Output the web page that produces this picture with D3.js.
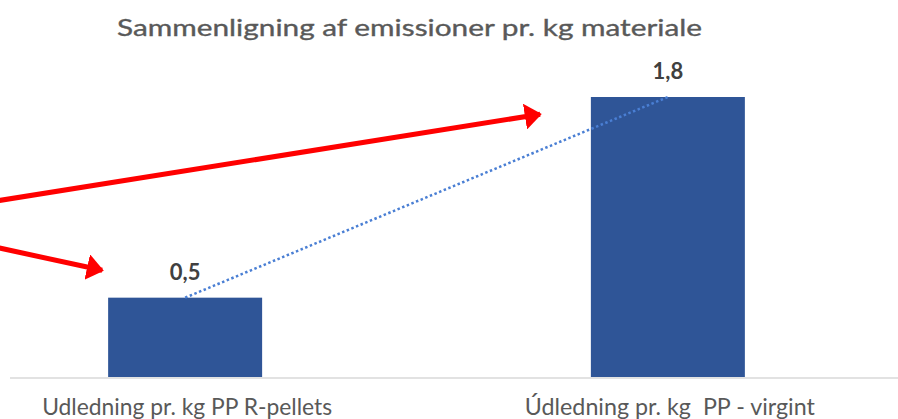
<!DOCTYPE html>
<html>
<head>
<meta charset="utf-8">
<script src="https://cdn.jsdelivr.net/npm/d3@7"></script>
<style>
  html, body { margin: 0; padding: 0; background: #fff; }
  svg { display: block; font-family: Lato, "Open Sans", sans-serif; }
  text { white-space: pre; }
</style>
</head>
<body>
<svg id="chart" width="898" height="419"></svg>
<script>
// Données
const categories = ["Udledning pr. kg PP R-pellets", "Údledning pr. kg  PP - virgint"];
const values     = [0.51, 1.8];
const title      = "Sammenligning af emissioner pr. kg materiale";

// Flèches rouges (annotations ajoutées à la main, hors données)
const arrows = [
  { x1: -10, y1: 202, x2: 548, y2: 113 },
  { x1: -10, y1: 246, x2: 110, y2: 272 }
];

const W = 898, H = 419;
const svg = d3.select('#chart');

// format danois : virgule décimale
const fmt = d3.formatLocale({ decimal: ",", thousands: ".", grouping: [3], currency: ["", " kr"] }).format(".1f");

const x = d3.scaleBand()
  .domain(categories)
  .range([-56, 909])
  .paddingInner(0.681)
  .paddingOuter(0.34);

const y = d3.scaleLinear()
  .domain([0, 1.8])
  .range([377, 97]);

// Titre
svg.append('text')
  .attr('x', 409.5).attr('y', 36)
  .attr('text-anchor', 'middle')
  .attr('font-size', 23)
  .attr('fill', '#595959')
  .attr('stroke', '#595959').attr('stroke-width', 0.35)
  .attr('textLength', 585).attr('lengthAdjust', 'spacingAndGlyphs')
  .text(title);

// Axe horizontal
svg.append('line')
  .attr('x1', 10).attr('x2', W)
  .attr('y1', y(0) + 1).attr('y2', y(0) + 1)
  .attr('stroke', '#d9d9d9').attr('stroke-width', 1.5);

// Barres
svg.append('g').selectAll('rect')
  .data(values).join('rect')
  .attr('x', (d, i) => x(categories[i]))
  .attr('y', d => y(d))
  .attr('width', x.bandwidth())
  .attr('height', d => y(0) - y(d))
  .attr('fill', '#2f5597');

// Ligne pointillée entre les sommets
const line = d3.line()
  .x((d, i) => x(categories[i]) + x.bandwidth() / 2)
  .y(d => y(d));
svg.append('path')
  .datum(values)
  .attr('d', line)
  .attr('fill', 'none')
  .attr('stroke', '#4a7fd4')
  .attr('stroke-width', 2.5)
  .attr('stroke-dasharray', '2.5,2.5');

// Étiquettes de valeur
svg.append('g').selectAll('text')
  .data(values).join('text')
  .attr('x', (d, i) => x(categories[i]) + x.bandwidth() / 2)
  .attr('y', d => y(d) - 18)
  .attr('text-anchor', 'middle')
  .attr('font-size', 22)
  .attr('font-weight', 700)
  .attr('fill', '#404040')
  .text(d => fmt(d));

// Étiquettes de catégorie
svg.append('g').selectAll('text')
  .data(categories).join('text')
  .attr('x', d => x(d) + x.bandwidth() / 2 + 2)
  .attr('y', 415)
  .attr('text-anchor', 'middle')
  .attr('font-size', 23)
  .attr('fill', '#595959')
  .attr('textLength', 290).attr('lengthAdjust', 'spacingAndGlyphs')
  .text(d => d);

// Flèches rouges
const defs = svg.append('defs');
defs.append('marker')
  .attr('id', 'head')
  .attr('viewBox', '0 0 10 10')
  .attr('refX', 9).attr('refY', 5)
  .attr('markerUnits', 'userSpaceOnUse')
  .attr('markerWidth', 17).attr('markerHeight', 26)
  .attr('orient', 'auto')
  .attr('preserveAspectRatio', 'none')
  .append('path').attr('d', 'M0,0 L10,5 L0,10 Z').attr('fill', '#ff0000');

svg.append('g').selectAll('line')
  .data(arrows).join('line')
  .attr('x1', d => d.x1).attr('y1', d => d.y1)
  .attr('x2', d => d.x2 - 8 * Math.cos(Math.atan2(d.y2 - d.y1, d.x2 - d.x1)))
  .attr('y2', d => d.y2 - 8 * Math.sin(Math.atan2(d.y2 - d.y1, d.x2 - d.x1)))
  .attr('stroke', '#ff0000')
  .attr('stroke-width', 5)
  .attr('marker-end', 'url(#head)');
</script>
</body>
</html>
